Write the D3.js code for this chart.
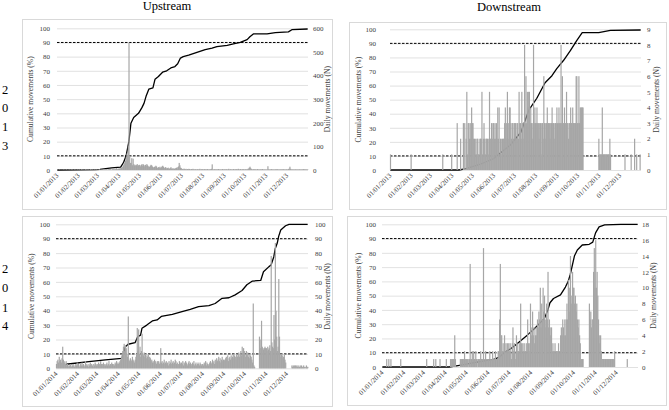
<!DOCTYPE html>
<html><head><meta charset="utf-8">
<script src="https://cdn.jsdelivr.net/npm/d3@7/dist/d3.min.js"></script>
<style>
body{margin:0;background:#fff}
svg{display:block}
text{font-family:"Liberation Serif","Times New Roman",serif;fill:#404040}
</style>
</head><body>
<svg id="chart" width="669" height="410"></svg>
<script>
// ---------- DATA ----------
const monthStarts = [0,31,59,90,120,151,181,212,243,273,304,334];
const tickLabels2013 = ["01/01/2013","01/02/2013","01/03/2013","01/04/2013","01/05/2013","01/06/2013","01/07/2013","01/08/2013","01/09/2013","01/10/2013","01/11/2013","01/12/2013"];
const tickLabels2014 = ["01/01/2014","01/02/2014","01/03/2014","01/04/2014","01/05/2014","01/06/2014","01/07/2014","01/08/2014","01/09/2014","01/10/2014","01/11/2014","01/12/2014"];
const columnTitles = ["Upstream","Downstream"];
const cumTicks = [0,10,20,30,40,50,60,70,80,90,100];
const thresholds = [10,90];

// daily movements (N), one value per day
const upDaily2013 = [].concat(
 [0,1,0,2,1,0,1,1,0,2,1,0,1,2,1,0,1,1,2,0,1,3,1,0,1,2,1,1,0,2,1],
 [1,2,1,0,3,1,2,1,0,2,3,1,2,1,2,0,1,3,2,1,2,1,0,2,1,3,2,1],
 [2,1,3,2,1,2,0,3,2,4,1,2,3,2,1,3,2,4,3,2,1,3,5,2,3,4,2,8,3,4,6],
 [5,8,6,10,12,15,20,30,25,40,55,70,60,100,540,60,30,30,50,20,48,25,20,18,22,20,25,18,20,22],
 [20,15,22,25,18,24,20,15,22,18,25,20,16,12,14,18,22,20,15,12,10,14,12,18,15,10,8,12,10,14,8],
 [12,15,18,14,10,8,12,10,6,8,10,5,6,8,12,6,5,8,4,6,5,8,10,6,12,15,30,20,10,8],
 [5,4,3,6,4,3,5,2,4,3,5,4,3,2,4,3,5,3,2,4,3,2,3,4,2,3,5,2,3,4,3],
 [3,2,4,3,2,3,4,2,3,2,4,3,5,24,3,2,3,4,2,3,2,3,4,2,3,2,3,2,4,3,2],
 [3,2,4,3,2,3,5,2,3,4,2,3,2,4,3,2,3,4,2,3,5,3,2,4,3,2,3,4,3,2],
 [3,4,2,3,5,6,10,14,8,4,3,2,3,4,2,3,2,3,4,2,3,2,3,2,3,4,2,3,2,3,2],
 [2,3,16,3,2,3,2,4,2,3,2,3,2,3,2,4,3,2,3,2,3,2,3,2,4,3,2,3,2,3],
 [2,3,4,6,14,5,3,2,3,2,3,2,3,2,3,2,3,2,3,2,3,2,3,2,4,3,2,3,2,3,2]
);
const downDaily2013 = [].concat(
 [1,0,0,0,0,0,0,0,0,0,0,0,0,0,0,0,0,0,0,0,0,0,0,0,0,0,0,0,0,0,1],
 [0,0,0,0,0,0,0,0,0,0,0,0,0,0,0,0,0,0,0,0,0,0,0,0,0,0,0,0],
 [0,0,0,0,0,0,0,0,0,0,0,0,0,0,0,0,0,1,0,0,0,0,0,0,0,0,0,0,0,0,1],
 [0,0,0,0,0,0,0,3,0,0,0,0,2,0,0,0,3,0,3,0,2,5,1,3,3,2,3,2,4,3],
 [3,2,2,1,2,1,2,2,1,1,2,2,2,5,1,2,3,2,1,2,2,2,1,2,5,2,2,3,2,3,3],
 [2,3,2,3,2,4,2,4,1,2,2,1,2,2,2,3,4,2,3,5,2,3,4,4,3,2,3,3,2,3],
 [3,3,2,3,3,2,5,3,3,2,5,3,3,2,8,3,6,3,5,4,5,5,3,4,3,3,2,8,3,4,3],
 [3,4,3,3,2,3,3,1,3,3,2,6,3,3,2,3,4,3,3,3,2,3,3,4,3,3,2,3,3,3,4],
 [3,3,4,3,3,8,3,6,3,3,4,3,3,5,3,3,2,3,3,4,3,3,4,3,3,3,3,6,6,3],
 [3,6,3,4,4,4,4,4,0,0,0,0,0,0,0,0,0,0,0,0,0,0,0,0,0,0,0,0,0,0,2],
 [1,1,1,1,4,1,1,1,1,1,1,1,1,1,1,2,1,0,0,0,0,0,0,0,0,0,0,0,0,0],
 [0,0,0,0,0,0,0,1,0,0,0,0,0,0,0,0,1,0,0,0,0,2,0,0,1,0,0,0,0,1,0]
);
const upDaily2014 = [].concat(
 [3,5,6,4,8,5,6,4,7,15,6,5,4,3,5,2,3,2,1,2,3,2,1,2,3,2,1,2,3,2,4],
 [2,3,1,2,3,2,4,2,3,1,2,5,2,3,2,1,3,2,4,2,3,2,1,3,2,4,3,2],
 [3,2,4,3,2,5,3,2,3,4,2,3,2,3,4,2,3,5,2,3,2,4,3,2,3,2,4,3,5,3,4],
 [3,4,5,6,8,10,12,15,17,12,16,14,10,8,36,6,5,7,6,5,8,6,5,4,6,8,10,28,12,27],
 [10,15,8,12,24,10,9,11,8,10,7,9,8,10,6,8,7,5,6,4,5,4,6,5,4,3,5,4,5,3,4],
 [14,4,5,3,4,6,3,4,5,3,4,2,5,3,4,6,3,4,5,3,4,6,5,3,4,2,3,5,4,3],
 [4,3,5,2,4,3,5,4,3,2,4,5,3,4,2,3,4,3,5,2,3,4,2,3,4,3,2,4,3,2,3],
 [3,2,4,3,5,2,4,3,2,3,4,5,3,4,6,4,5,3,6,4,7,5,6,8,5,7,4,6,8,5,6],
 [6,5,7,8,6,9,5,7,8,6,9,7,8,10,7,9,8,6,10,8,9,11,8,10,12,9,15,10,14,12],
 [10,8,12,9,11,8,10,7,9,8,6,4,45,2,1,0,0,0,0,0,0,22,14,20,33,15,14,13,14,15,14],
 [14,12,15,13,14,16,12,78,18,15,14,37,20,87,40,22,12,15,62,22,10,8,10,9,7,8,10,6,4,0],
 [0,0,0,0,0,0,0,2,1,2,1,2,2,1,2,1,2,1,1,2,1,2,1,1,2,1,0,1,2,1,1]
);
const downDaily2014 = [].concat(
 [0,0,0,0,0,0,1,0,0,1,0,0,1,0,0,0,0,0,0,0,0,0,0,0,0,0,1,0,0,0,0],
 [0,0,0,0,0,0,0,0,0,0,0,0,0,0,0,0,0,0,0,0,0,0,0,0,0,0,0,0],
 [0,0,0,0,1,0,0,0,0,0,0,0,0,0,1,0,0,1,0,0,0,0,0,1,0,0,0,0,0,0,0],
 [0,1,0,0,0,0,0,1,1,1,1,1,1,4,1,0,0,0,0,0,0,1,1,1,1,1,1,2,1,1],
 [1,1,0,1,1,13,1,1,2,1,2,1,1,2,1,1,0,1,1,1,2,1,1,1,15,1,1,2,1,1,1],
 [1,1,2,1,1,1,2,1,1,1,2,1,1,1,2,2,6,13,4,4,2,3,2,4,2,3,2,3,2,3],
 [2,3,2,1,3,5,2,3,2,1,4,3,2,2,3,2,8,3,2,3,2,3,2,2,3,2,6,3,2,3,8],
 [4,5,7,4,5,3,4,5,4,6,5,7,6,10,5,8,6,10,7,9,6,5,8,6,12,5,6,5,4,5,2],
 [3,2,2,3,2,2,2,2,3,2,2,4,5,4,6,5,4,6,4,6,8,6,11,7,10,14,8,9,12,10],
 [10,8,9,7,8,6,5,6,4,3,1,1,1,1,0,0,0,0,0,0,0,0,8,6,7,5,6,6,12,15,10],
 [16,10,12,9,6,4,3,4,2,1,1,1,1,1,1,1,1,1,1,1,1,1,1,1,1,1,1,2,0,0],
 [0,0,0,0,0,0,0,0,0,0,0,0,0,0,0,1,0,0,0,0,0,0,0,0,0,0,0,0,0,0,0]
);

// cumulative movements (%), [day of year, value]
const upCum2013 = [[0,0],[55,0.3],[62,0.5],[79,1.5],[92,2],[96,5],[100,10],[104,20],[107,33],[111,37],[118,40],[123,44],[126,47],[129,52],[133,57],[139,58],[142,64],[147,66],[153,69],[159,70],[165,72],[171,73],[175,75],[179,79],[183,80],[191,81],[203,83],[215,85],[225,86],[232,87],[247,88],[256,89],[266,90],[276,92],[280,94],[285,96],[305,96],[317,97],[336,97.5],[341,99],[364,99.5]];
const downCum2013 = [[0,0],[100,0],[110,1],[130,4],[150,8],[160,12],[175,18],[190,27],[201,42],[206,46],[213,51],[225,62],[235,67],[242,72],[252,78],[262,85],[271,92],[279,97.6],[303,97.6],[320,99.3],[364,99.5]];
const upCum2014 = [[14,2.8],[27,3.5],[47,4.6],[71,5.8],[95,6.9],[97,10],[100,15],[104,16.7],[114,17.8],[118,22],[122,23],[124,27.8],[131,30],[139,32.9],[146,33.6],[152,36],[168,37.5],[182,39.4],[194,41],[206,42.8],[221,43.5],[230,45],[240,48.6],[250,49],[259,51],[269,54],[276,58],[284,60.6],[296,61],[300,67],[308,70.6],[311,71.7],[315,77.5],[317,83],[320,87],[322,91.6],[325,96],[332,99],[337,100],[364,100]];
const downCum2014 = [[0,0],[95,0],[108,1],[131,3],[160,5.5],[167,7],[175,10.5],[183,12.8],[190,15.5],[207,22.5],[217,27],[227,32],[231,34],[236,40],[239,45],[244,48],[254,50.5],[261,56],[265,60],[268,65],[274,78],[278,82],[285,85.5],[295,86],[300,87.5],[304,94],[309,98.2],[317,99.6],[340,100],[364,100]];

// right axis (daily) maxima and steps
const dailyMax = [600, 9, 100, 18];
const dailyStep = [100, 1, 10, 2];

// ---------- LAYOUT ----------
const panels = [
 {box:[22,19,332,209], x0:57, x1:308, yT:28.3, yB:170, lX:50, rX:313, ltX:33, rtX:330, daily:upDaily2013, cum:upCum2013, ticks:tickLabels2013, k:0},
 {box:[349,22,666,209], x0:390, x1:641, yT:29.3, yB:170, lX:376, rX:647, ltX:361, rtX:659, daily:downDaily2013, cum:downCum2013, ticks:tickLabels2013, k:1},
 {box:[22,216,332,406], x0:56, x1:308, yT:224.3, yB:368.3, lX:50, rX:315, ltX:34, rtX:330, daily:upDaily2014, cum:upCum2014, ticks:tickLabels2014, k:2},
 {box:[347,216,666,405], x0:382, x1:638, yT:224.3, yB:367, lX:376, rX:642, ltX:361, rtX:656, daily:downDaily2014, cum:downCum2014, ticks:tickLabels2014, k:3}
];

const svg = d3.select("#chart");
const TXT = "#404040";

// column titles
svg.append("text").attr("x",167).attr("y",10).attr("text-anchor","middle").style("font-size","12.5px").style("fill","#000").text(columnTitles[0]);
svg.append("text").attr("x",509).attr("y",11).attr("text-anchor","middle").style("font-size","12.5px").style("fill","#000").text(columnTitles[1]);

// row (year) labels
const yearRows = [{t:"2013", ys:[94,112,131,150]},{t:"2014", ys:[273,292,312,330]}];
yearRows.forEach(r=>{
  r.t.split("").forEach((ch,i)=>{
    svg.append("text").attr("x",5).attr("y",r.ys[i]).attr("text-anchor","middle")
      .style("font-size","12.5px").style("fill","#000").text(ch);
  });
});

function styleTicks(sel){
  sel.selectAll("text").style("font-size","7px").style("font-family","Liberation Serif, serif").style("fill",TXT);
}

panels.forEach(p=>{
  const g = svg.append("g");
  g.append("rect").attr("x",p.box[0]+0.5).attr("y",p.box[1]+0.5)
    .attr("width",p.box[2]-p.box[0]).attr("height",p.box[3]-p.box[1])
    .attr("fill","#fff").attr("stroke","#d9d9d9").attr("stroke-width",1);

  const x = d3.scaleLinear().domain([0,365]).range([p.x0,p.x1]);
  const yL = d3.scaleLinear().domain([0,100]).range([p.yB,p.yT]);
  const yR = d3.scaleLinear().domain([0,dailyMax[p.k]]).range([p.yB,p.yT]);

  // gridlines
  const grid = g.append("g").attr("transform",`translate(${p.x0},0)`)
    .call(d3.axisLeft(yL).tickValues(cumTicks).tickSize(-(p.x1-p.x0)).tickFormat(""));
  grid.select(".domain").remove();
  grid.selectAll("line").attr("stroke","#d9d9d9").attr("stroke-width",0.8);

  // left axis labels
  const la = g.append("g").attr("transform",`translate(${p.lX},0)`)
    .call(d3.axisLeft(yL).tickValues(cumTicks).tickSize(0).tickPadding(0));
  la.select(".domain").remove();
  styleTicks(la);

  // right axis labels
  const ra = g.append("g").attr("transform",`translate(${p.rX},0)`)
    .call(d3.axisRight(yR).tickValues(d3.range(0,dailyMax[p.k]+0.001,dailyStep[p.k])).tickSize(0).tickPadding(0));
  ra.select(".domain").remove();
  styleTicks(ra);

  // x axis labels
  const xa = g.append("g").attr("transform",`translate(0,${p.yB})`)
    .call(d3.axisBottom(x).tickValues(monthStarts).tickSize(0).tickFormat((d,i)=>p.ticks[i]));
  xa.select(".domain").remove();
  styleTicks(xa);
  xa.selectAll("text").attr("x",0).attr("y",0).attr("dy",0)
    .attr("transform","translate(1.5,6) rotate(-45)")
    .style("text-anchor","end");

  // axis titles
  g.append("text").attr("transform",`translate(${p.ltX},${(p.yT+p.yB)/2}) rotate(-90)`)
    .attr("text-anchor","middle").style("font-size","7.6px").style("fill",TXT).text("Cumulative movements (%)");
  g.append("text").attr("transform",`translate(${p.rtX},${(p.yT+p.yB)/2}) rotate(-90)`)
    .attr("text-anchor","middle").style("font-size","7.6px").style("fill",TXT).text("Daily movements (N)");

  // threshold dashed lines
  g.selectAll(".thr").data(thresholds).enter().append("line")
    .attr("x1",p.x0).attr("x2",p.x1).attr("y1",d=>yL(d)).attr("y2",d=>yL(d))
    .attr("stroke","#000").attr("stroke-width",1).attr("stroke-dasharray","2.5,1.5");

  // cumulative line
  const line = d3.line().x(d=>x(d[0]+0.5)).y(d=>yL(d[1]));
  g.append("path").datum(p.cum).attr("d",line).attr("fill","none")
    .attr("stroke","#000").attr("stroke-width",1.3).attr("stroke-linejoin","round");

  // daily bars
  const dw = x(1)-x(0);
  g.append("g").selectAll("rect").data(p.daily.map((v,i)=>({i,v})).filter(d=>d.v>0))
    .enter().append("rect")
    .attr("x",d=>x(d.i)-0.1).attr("width",dw+0.5)
    .attr("y",d=>yR(d.v)).attr("height",d=>p.yB-yR(d.v))
    .attr("fill","#a6a6a6");
});
</script>
</body></html>
